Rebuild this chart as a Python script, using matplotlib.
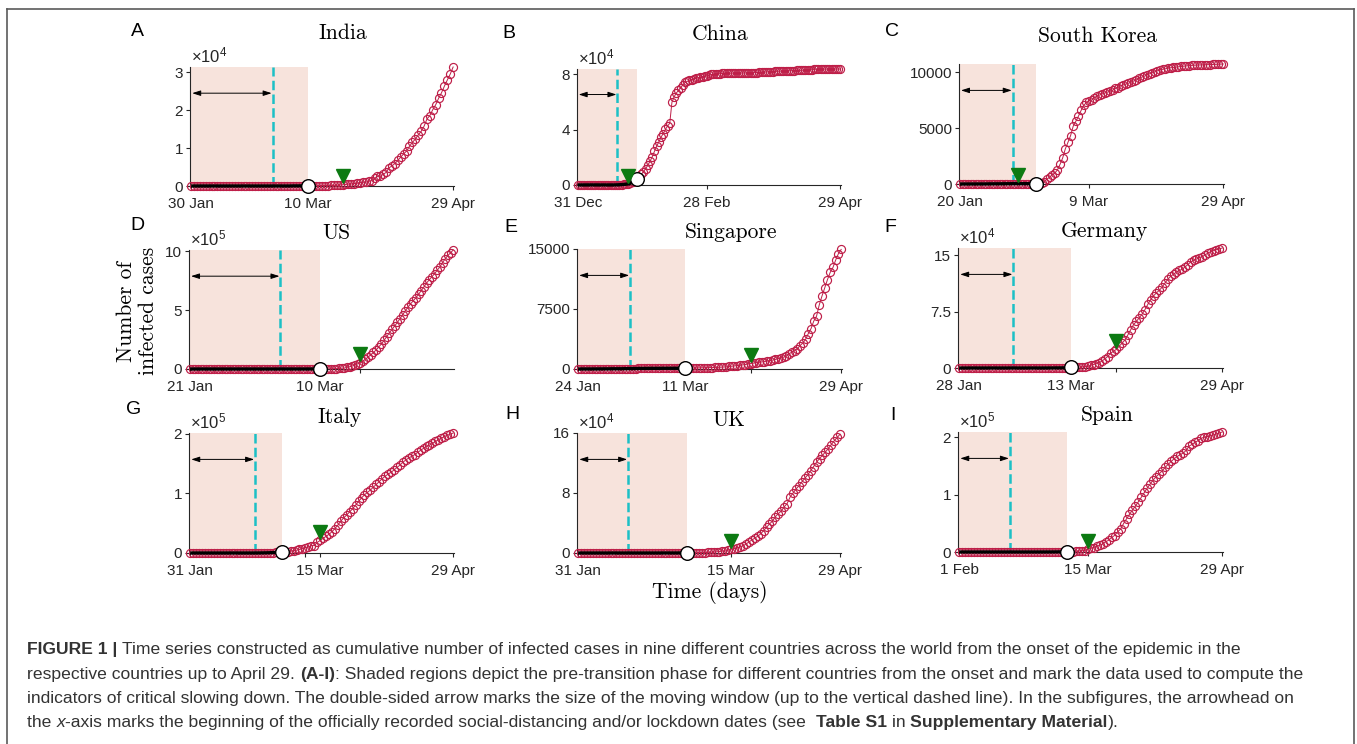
import matplotlib
matplotlib.use("Agg")
import matplotlib.pyplot as plt
from matplotlib.transforms import ScaledTranslation
from matplotlib.lines import Line2D

# ---------------- data (cumulative infected cases, one value per day) ----------------
india = [1, 1, 1, 2, 3,
         3, 3, 3, 3, 3, 3, 3, 3, 3, 3, 3, 3, 3, 3, 3, 3, 3, 3, 3, 3, 3, 3, 3, 3, 3, 3, 3, 3,
         5, 5, 28, 30, 31, 34, 39, 43, 56, 62, 73, 82, 102, 113, 119, 142, 156, 194, 244, 330,
         396, 499, 536, 657, 727, 887, 987, 1024, 1251, 1397, 1998, 2543, 2567, 3082, 3588, 4778,
         5311, 5916, 6725, 7598, 8446, 9205, 10453, 11487, 12322, 13430, 14352, 15722, 17615,
         18539, 20080, 21370, 23077, 24530, 26283, 27890, 29451, 31324]

china = [27,
         27, 27, 44, 44, 59, 59, 59, 59, 59, 41, 41, 41, 41, 41, 41, 45,
         62, 121, 198, 291, 440, 571, 830, 1287, 1975, 2744,
         4515, 5974, 7711, 9692, 11791, 14380, 17205, 20438, 24324, 28018,
         31161, 34546, 37198, 40171, 42638, 44653, 59804, 63851, 66492, 68500,
         70548, 72436, 74185, 75002, 75891, 76288, 76936, 77150, 77658, 78064,
         78497, 78824, 78927, 79355, 79968,
         80174, 80304, 80422, 80565, 80711, 80813, 80859, 80904, 80924, 80955,
         80981, 80995, 81007, 81031, 81062, 81099, 81135, 81203, 81263, 81329,
         81400, 81491, 81554, 81661, 81782, 81897, 81999, 82122, 82198, 82279,
         82361, 82432, 82511, 82543, 82602, 82665, 82718, 82809, 82883, 82941,
         82982, 83097, 83157, 83306, 83356, 83403, 83760, 83787, 83805, 83817,
         83853, 83868, 83884, 83899, 83909, 83912, 83918, 83940, 83944]

south_korea = [1, 1, 1, 1, 2, 2, 3, 4, 4, 4, 6, 11,
               12, 15, 15, 16, 19, 23, 24, 24, 27, 27, 28, 28, 28, 28, 28, 29, 30, 31, 51, 104,
               204, 433, 602, 833, 977, 1261, 1766, 2337, 3150,
               3736, 4335, 5186, 5621, 6088, 6593, 7041, 7314, 7478, 7513, 7755, 7869, 7979, 8086,
               8162, 8236, 8320, 8413, 8565, 8652, 8799, 8897, 8961, 9037, 9137, 9241, 9332, 9478,
               9583, 9661, 9786,
               9887, 9976, 10062, 10156, 10237, 10284, 10331, 10384, 10423, 10450, 10480, 10512,
               10537, 10564, 10591, 10613, 10635, 10653, 10661, 10674, 10683, 10694, 10702, 10708,
               10718, 10728, 10738, 10752, 10761]

us = [1,
      1, 1, 1, 2, 2, 5, 5, 5, 5, 6, 8,
      8, 9, 11, 11, 12, 12, 12, 12, 12, 12, 13, 13, 14, 14, 14, 14, 14, 14, 14, 14,
      16, 16, 16, 51, 51, 57, 58, 60, 68,
      74, 98, 118, 149, 217, 262, 402, 518, 583, 959, 1281, 1663, 2179, 2727, 3499, 4632,
      6421, 7786, 13680, 19101, 25493, 33276, 43847, 53740, 65778, 83836, 101657, 121478,
      140886, 161807, 188172,
      213372, 243616, 275586, 308850, 337072, 366667, 396223, 429052, 461437, 496535,
      526396, 555313, 580619, 607670, 636350, 667592, 699706, 732197, 758809, 784326,
      811865, 840351, 869170, 905358, 938154, 965785, 988197, 1012582]

singapore = [1, 3, 3, 4, 5, 7, 7, 10, 13, 16, 18, 18, 24, 28, 28, 30, 33, 40, 45, 47,
             50, 58, 67, 72, 75, 77, 81, 84, 84, 85, 85, 89, 89, 91, 93, 93, 93, 102, 106, 108,
             110, 110, 117, 130, 138, 150, 150, 160, 178, 178, 200, 212, 226, 243, 266, 313,
             345, 385, 432, 455, 509, 558, 631, 683, 732, 802, 844, 879, 926, 1000, 1049, 1114,
             1189, 1309, 1375, 1481, 1623, 1910, 2108, 2299, 2532, 2918, 3252, 3699, 4427, 5050,
             5992, 6588, 8014, 9125, 10141, 11178, 12075, 12693, 13624, 14423, 14951]

germany = [1, 4, 4, 4, 5,
           8, 10, 12, 12, 12, 12, 13, 13, 14, 14,
           16, 16, 16, 16, 16, 16, 16, 16, 16, 16, 16, 16, 16, 16,
           17, 27, 46, 48, 79,
           130, 159, 196, 262, 482, 670, 799, 1040, 1176, 1457, 1908, 2078, 3675, 4585, 5795,
           7272, 9257, 12327, 15320, 19848, 22213, 24873, 29056, 32986, 37323, 43938, 50871,
           57695, 62095, 66885, 71808,
           77872, 84794, 91159, 96092, 100123, 103374, 107663, 113296, 118181, 122171, 124908,
           127854, 130072, 131359, 134753, 137698, 141397, 143342, 145184, 147065, 148291,
           150648, 153129, 154999, 156513, 157770, 158758, 159912]

italy = [2, 2,
         2, 2, 2, 2, 2, 2, 3, 3, 3, 3, 3, 3, 3, 3, 3, 3, 3, 3, 3, 3,
         20, 62, 155, 229, 322, 453, 655, 888, 1128,
         1694, 2036, 2502, 3089, 3858, 4636, 5883, 7375, 9172, 10149, 12462, 12462, 17660,
         21157, 24747, 27980, 31506, 35713, 41035, 47021, 53578, 59138, 63927, 69176, 74386,
         80589, 86498, 92472, 97689, 101739, 105792,
         110574, 115242, 119827, 124632, 128948, 132547, 135586, 139422, 143626, 147577,
         152271, 156363, 159516, 162488, 165155, 168941, 172434, 175925, 178972, 181228,
         183957, 187327, 189973, 192994, 195351, 197675, 199414, 201505]

uk = [0, 0, 2,
      2, 2, 2, 2, 2, 2, 3, 3, 3, 8, 8, 9, 9, 9, 9, 9, 9, 9, 9, 9, 9, 9, 9, 9,
      13, 13, 15, 20, 23,
      36, 40, 51, 86, 116, 164, 207, 274, 322, 384, 459, 459, 802, 1144, 1145, 1551, 1960,
      2642, 2716, 4014, 5067, 5745, 6726, 8164, 9640, 11812, 14745, 17312, 19780, 22453, 25481,
      29865, 34173, 38689, 42477, 48436, 52279, 55949, 61474, 65872, 74605, 79874, 85206,
      89570, 94845, 99483, 104145, 109769, 115314, 121172, 125856, 130172, 134638, 139246,
      144640, 149569, 154037, 158348]

spain = [0, 0,
         1, 1, 1, 1, 1, 1, 1, 1, 2, 2, 2, 2, 2, 2, 2, 2, 2, 2, 2, 2, 2, 2, 2, 2,
         6, 13, 15, 32, 45,
         84, 120, 165, 222, 259, 400, 500, 673, 1073, 1695, 2277, 2277, 5232, 6391, 7798, 9942,
         11748, 13910, 17963, 20410, 25374, 28768, 35136, 39885, 49515, 57786, 65719, 73235,
         80110, 87956, 95923,
         104118, 112065, 119199, 126168, 131646, 136675, 141942, 148220, 153222, 158273,
         163027, 166831, 170099, 172541, 177644, 184948, 188068, 191726, 194416, 198674,
         200210, 201505, 202990, 204178, 205905, 207634, 209465]

letters = ["A", "B", "C", "D", "E", "F", "G", "H", "I"]
titles = ["India", "China", "South Korea", "US", "Singapore", "Germany", "Italy", "UK", "Spain"]
series = [india, china, south_korea, us, singapore, germany, italy, uk, spain]
exponents = [4, 4, 0, 5, 0, 4, 5, 4, 5]
ytick_values = [[0, 1, 2, 3], [0, 4, 8], [0, 5000, 10000], [0, 5, 10], [0, 7500, 15000],
                [0, 7.5, 15], [0, 1, 2], [0, 8, 16], [0, 1, 2]]
ytick_labels = [["0", "1", "2", "3"], ["0", "4", "8"], ["0", "5000", "10000"], ["0", "5", "10"],
                ["0", "7500", "15000"], ["0", "7.5", "15"], ["0", "1", "2"], ["0", "8", "16"],
                ["0", "1", "2"]]
xtick_days = [[0, 40, 90], [0, 59, 120], [0, 49, 100], [0, 49], [0, 39, 96], [0, 39, 92],
              [0, 44, 89], [0, 52, 89], [0, 43, 88]]
xtick_labels = [["30 Jan", "10 Mar", "29 Apr"], ["31 Dec", "28 Feb", "29 Apr"],
                ["20 Jan", "9 Mar", "29 Apr"], ["21 Jan", "10 Mar"],
                ["24 Jan", "11 Mar", "29 Apr"], ["28 Jan", "13 Mar", "29 Apr"],
                ["31 Jan", "15 Mar", "29 Apr"], ["31 Jan", "15 Mar", "29 Apr"],
                ["1 Feb", "15 Mar", "29 Apr"]]
extra_tick_days = [[], [], [], [64], [63], [55], [39], [], []]
transition_day = [40, 27, 29, 49, 39, 39, 31, 37, 36]   # end of pre-transition phase
window_day = [28, 18, 20, 34, 19, 19, 22, 17, 17]       # end of moving window (dashed line)
lockdown_day = [52, 23, 22, 64, 63, 55, 44, 52, 43]     # social distancing / lockdown

caption_lines = [
    [("FIGURE 1 |", "bold", "normal"),
     (" Time series constructed as cumulative number of infected cases in nine different countries across the world from the onset of the epidemic in the", "normal", "normal")],
    [("respective countries up to April 29. ", "normal", "normal"), ("(A-I)", "bold", "normal"),
     (": Shaded regions depict the pre-transition phase for different countries from the onset and mark the data used to compute the", "normal", "normal")],
    [("indicators of critical slowing down. The double-sided arrow marks the size of the moving window (up to the vertical dashed line). In the subfigures, the arrowhead on", "normal", "normal")],
    [("the ", "normal", "normal"), ("x", "normal", "italic"),
     ("-axis marks the beginning of the officially recorded social-distancing and/or lockdown dates (see  ", "normal", "normal"),
     ("Table S1", "bold", "normal"), (" in ", "normal", "normal"),
     ("Supplementary Material", "bold", "normal"), (").", "normal", "normal")],
]

# ---------------- styling / layout ----------------
W, H = 1357, 744
RED = "#BE1E48"
SHADE = "#F7E3DC"
CYAN = "#1CC0C6"
GREEN = "#0C7A12"
DARK = "#262626"
SANS = ["Liberation Sans", "DejaVu Sans"]
SERIF = ["cmr10", "DejaVu Serif"]

plt.rcParams["font.family"] = SANS
plt.rcParams["mathtext.fontset"] = "custom"
plt.rcParams["mathtext.rm"] = "Liberation Sans"
plt.rcParams["mathtext.it"] = "Liberation Sans:italic"
plt.rcParams["mathtext.bf"] = "Liberation Sans:bold"
plt.rcParams["axes.unicode_minus"] = False

fig = plt.figure(figsize=(W / 100, H / 100), dpi=100)

axes_px = [(190, 67, 454, 186), (577, 69, 841, 185), (959, 64, 1224, 184),
           (189, 250, 454, 369), (577, 249, 842, 369), (958, 248, 1223, 368),
           (189, 433, 454, 553), (577, 433, 841, 553), (958, 432, 1223, 552)]
letter_px = [(137, 31), (509, 34), (892, 31), (137, 225), (511, 227), (890, 228),
             (134, 410), (512, 415), (893, 416)]
title_px = [(343, 39), (720, 40), (1098, 42), (336, 239), (731, 238), (1104, 237),
            (340, 423), (729, 426), (1107, 421)]


def fx(px):
    return px / W


def fy(py):
    return 1 - py / H


for i in range(9):
    x0, y0, x1, y1 = axes_px[i]
    ax = fig.add_axes([fx(x0), fy(y1), (x1 - x0) / W, (y1 - y0) / H])
    scale = 10 ** exponents[i]
    yv = [v / scale for v in series[i]]
    xv = list(range(len(yv)))
    n = len(yv)
    ytop = max(max(yv), ytick_values[i][-1])
    xlo, xhi = -0.4, n - 1 + 0.3
    ax.set_xlim(xlo, xhi)
    ax.set_ylim(0, ytop)

    t = transition_day[i]
    w = window_day[i]
    L = lockdown_day[i]

    ax.axvspan(xlo, t, color=SHADE, lw=0, zorder=0)
    dl = ax.axvline(w, color=CYAN, lw=1.8, zorder=1)
    dl.set_dashes([3.8, 1.7])

    ax.plot(xv, yv, "-", color=RED, lw=0.7, zorder=2, clip_on=False)
    ax.plot(xv, yv, "o", mfc="none", mec=RED, ms=5.8, mew=0.85, zorder=3, clip_on=False)
    ax.plot(xv[:t + 1], yv[:t + 1], "-", color="black", lw=2.4, zorder=4,
            solid_capstyle="butt", clip_on=False)
    ax.plot([t], [yv[t]], "o", mfc="white", mec="black", ms=9.8, mew=1.0, zorder=6,
            clip_on=False)

    ya = 0.78 * ytop
    ax.annotate("", xy=(w - 0.35, ya), xytext=(0.35, ya),
                arrowprops=dict(arrowstyle="<|-|>,head_length=0.5,head_width=0.16",
                                color="black", lw=0.7, shrinkA=0, shrinkB=0),
                zorder=5)

    off = ScaledTranslation(0, 6.0 / 72, fig.dpi_scale_trans)
    ax.plot([L], [yv[L]], "v", color=GREEN, mec=GREEN, ms=10.5, zorder=7,
            transform=ax.transData + off, clip_on=False)

    for s in ["top", "right"]:
        ax.spines[s].set_visible(False)
    for s in ["left", "bottom"]:
        ax.spines[s].set_color(DARK)
        ax.spines[s].set_linewidth(0.8)

    ax.set_yticks(ytick_values[i])
    ax.set_yticklabels(ytick_labels[i])
    ax.set_xticks(xtick_days[i] + extra_tick_days[i])
    ax.set_xticklabels(xtick_labels[i] + [""] * len(extra_tick_days[i]))
    ax.tick_params(axis="both", direction="out", length=3, width=0.8, colors=DARK,
                   labelsize=11)
    ax.tick_params(axis="x", pad=5)
    ax.tick_params(axis="y", pad=2)

    if exponents[i]:
        ax.text(0.005, 1.0, r"$\times10^{%d}$" % exponents[i], transform=ax.transAxes
                + ScaledTranslation(0, 1.0 / 72, fig.dpi_scale_trans),
                ha="left", va="bottom", fontsize=12, color=DARK)

    lx, ly = letter_px[i]
    fig.text(fx(lx), fy(ly), letters[i], ha="center", va="center", fontsize=14,
             color="black")
    tx, ty = title_px[i]
    fig.text(fx(tx), fy(ty), titles[i], ha="center", va="baseline", fontsize=15.5,
             family=SERIF, color="black")

fig.text(fx(137), fy(311), "Number of\ninfected cases", rotation=90, ha="center",
         va="center", multialignment="center", fontsize=15.5, family=SERIF,
         linespacing=1.15)
fig.text(fx(710), fy(592), "Time (days)", ha="center", va="center", fontsize=15.5,
         family=SERIF)

# frame around figure panel
frame_kw = dict(color="#5a5a5a", lw=1.2, transform=fig.transFigure)
fig.add_artist(Line2D([fx(7), fx(1354)], [fy(9), fy(9)], **frame_kw))
fig.add_artist(Line2D([fx(7), fx(7)], [fy(9), fy(744)], **frame_kw))
fig.add_artist(Line2D([fx(1354), fx(1354)], [fy(9), fy(744)], **frame_kw))

# caption with mixed weights
renderer = fig.canvas.get_renderer()


def text_width(s, size, weight, style):
    t = fig.text(0, 0, s, fontsize=size, weight=weight, style=style)
    wdt = t.get_window_extent(renderer).width
    t.remove()
    return wdt


def seg_width(s, size, weight, style):
    # width including leading / trailing spaces
    base = text_width("|" + s + "|", size, weight, style)
    bar = text_width("||", size, weight, style)
    return base - bar


base_size = 12.0
line1_w = sum(seg_width(s, base_size, wt, st) for s, wt, st in caption_lines[0])
cap_size = base_size * 1214.0 / line1_w
baselines = [654, 679, 703, 727]
for segs, yb in zip(caption_lines, baselines):
    x = 27.0
    for s, wt, st in segs:
        stripped = s.lstrip(" ")
        lead = seg_width(s[:len(s) - len(stripped)], cap_size, wt, st) if stripped != s else 0
        fig.text(fx(x + lead), fy(yb), stripped, fontsize=cap_size, weight=wt, style=st,
                 ha="left", va="baseline", color="#333333")
        x += seg_width(s, cap_size, wt, st)

fig.savefig("out.png", dpi=100)
